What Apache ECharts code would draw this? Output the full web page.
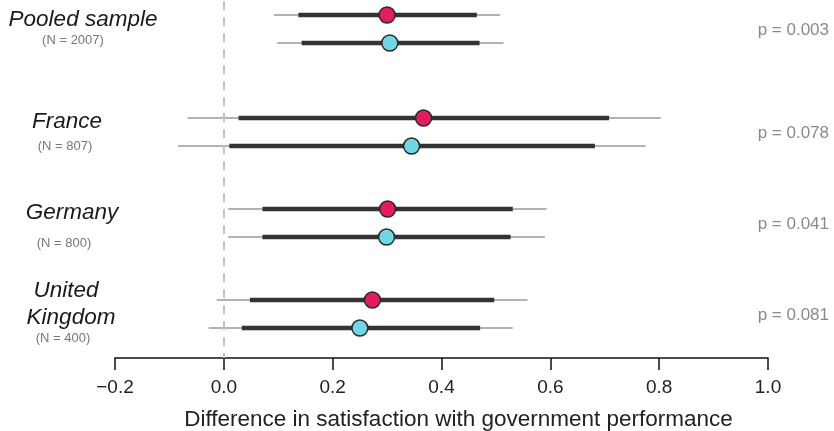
<!DOCTYPE html>
<html>
<head>
<meta charset="utf-8">
<script src="https://cdn.jsdelivr.net/npm/echarts@6/dist/echarts.min.js"></script>
<style>
  html, body { margin: 0; padding: 0; background: #fff; }
  #chart { width: 834px; height: 431px; }
</style>
</head>
<body>
<div id="chart"></div>
<script>
// rows: pooled sample, France, Germany, United Kingdom
const redRow = [0, 3.68, 6.93, 10.18];
const cyanRow = [1, 4.68, 7.93, 11.18];

const redEst = [0.300, 0.367, 0.301, 0.273];
const redThinLo = [0.092, -0.067, 0.008, -0.013];
const redThinHi = [0.508, 0.803, 0.593, 0.558];
const redThickLo = [0.137, 0.027, 0.071, 0.048];
const redThickHi = [0.465, 0.708, 0.531, 0.497];

const cyanEst = [0.305, 0.345, 0.299, 0.250];
const cyanThinLo = [0.098, -0.084, 0.008, -0.028];
const cyanThinHi = [0.514, 0.775, 0.590, 0.531];
const cyanThickLo = [0.143, 0.010, 0.071, 0.033];
const cyanThickHi = [0.470, 0.682, 0.527, 0.471];

const pValues = ["p = 0.003", "p = 0.078", "p = 0.041", "p = 0.081"];

const FONT = "Liberation Sans, Arial, sans-serif";

const myChart = echarts.init(document.getElementById("chart"));

// [lo, hi, row] for both groups
function bars(rLo, rHi, cLo, cHi) {
  const out = [];
  for (let i = 0; i < rLo.length; i++) {
    out.push([rLo[i], rHi[i], redRow[i]]);
    out.push([cLo[i], cHi[i], cyanRow[i]]);
  }
  return out;
}

function lineRender(width, color) {
  return function (params, api) {
    const a = api.coord([api.value(0), api.value(2)]);
    const b = api.coord([api.value(1), api.value(2)]);
    return {
      type: "line",
      shape: { x1: a[0], y1: a[1], x2: b[0], y2: b[1] },
      style: { stroke: color, lineWidth: width },
    };
  };
}

const pData = pValues.map((p, i) => [1.0, (redRow[i] + cyanRow[i]) / 2, i]);

// 左侧标签
const leftLabels = [
  { text: "Pooled sample", x: 83, y: 20, big: true },
  { text: "(N = 2007)", x: 73, y: 40 },
  { text: "France", x: 67, y: 122, big: true },
  { text: "(N = 807)", x: 65, y: 146 },
  { text: "Germany", x: 72, y: 213, big: true },
  { text: "(N = 800)", x: 64, y: 243 },
  { text: "United", x: 66, y: 291, big: true },
  { text: "Kingdom", x: 71, y: 318, big: true },
  { text: "(N = 400)", x: 63, y: 338 },
];

const option = {
  animation: false,
  grid: { left: 115, right: 66, top: 1, bottom: 73, containLabel: false, outerBoundsMode: "none" },
  xAxis: {
    type: "value",
    position: "bottom",
    min: -0.2,
    max: 1.0,
    interval: 0.2,
    axisLine: { show: true, onZero: false, lineStyle: { color: "#111", width: 1.5 } },
    axisTick: { show: true, length: 12, lineStyle: { color: "#111", width: 1.5 } },
    splitLine: { show: false },
    axisLabel: {
      margin: 20,
      fontFamily: FONT,
      fontSize: 19,
      color: "#222",
      formatter: (v) => (v < 0 ? "\u2212" : "") + Math.abs(v).toFixed(1),
    },
    name: "Difference in satisfaction with government performance",
    nameLocation: "middle",
    nameGap: 50,
    nameTextStyle: { fontFamily: FONT, fontSize: 22.5, color: "#222", padding: [0, 0, 0, 34] },
  },
  yAxis: {
    type: "value",
    inverse: true,
    min: -0.5,
    max: 12.25,
    show: false,
  },
  graphic: leftLabels.map((l) => ({
    type: "text",
    x: l.x,
    y: l.y,
    style: {
      text: l.text,
      align: "center",
      verticalAlign: "middle",
      fontFamily: FONT,
      fontSize: l.big ? 22.5 : 13,
      fontStyle: l.big ? "italic" : "normal",
      fill: l.big ? "#1a1a1a" : "#777",
    },
  })),
  series: [
    {
      type: "custom",
      name: "thin",
      renderItem: lineRender(1.5, "#9a9a9a"),
      encode: { x: [0, 1], y: 2 },
      data: bars(redThinLo, redThinHi, cyanThinLo, cyanThinHi),
      z: 2,
      markLine: {
        silent: true,
        symbol: "none",
        label: { show: false },
        lineStyle: { color: "#c4c4c4", width: 2, type: [9, 7] },
        data: [{ xAxis: 0 }],
      },
    },
    {
      type: "custom",
      name: "thick",
      renderItem: lineRender(4.5, "#333"),
      encode: { x: [0, 1], y: 2 },
      data: bars(redThickLo, redThickHi, cyanThickLo, cyanThickHi),
      z: 3,
    },
    {
      type: "scatter",
      name: "red",
      symbolSize: 16,
      itemStyle: { color: "#e21d5f", borderColor: "#2a2a2a", borderWidth: 1.5, opacity: 1 },
      data: redEst.map((v, i) => [v, redRow[i]]),
      z: 5,
    },
    {
      type: "scatter",
      name: "cyan",
      symbolSize: 16,
      itemStyle: { color: "#6fd8e4", borderColor: "#2a2a2a", borderWidth: 1.5, opacity: 1 },
      data: cyanEst.map((v, i) => [v, cyanRow[i]]),
      z: 5,
    },
    {
      type: "custom",
      name: "p",
      encode: { x: 0, y: 1 },
      data: pData,
      renderItem: function (params, api) {
        const c = api.coord([api.value(0), api.value(1)]);
        return {
          type: "text",
          x: c[0] + 61,
          y: c[1] + 1,
          style: {
            text: pValues[api.value(2)],
            align: "right",
            verticalAlign: "middle",
            fontFamily: FONT,
            fontSize: 17,
            fill: "#8a8a8a",
          },
        };
      },
      z: 4,
    },
  ],
};
myChart.setOption(option);
</script>
</body>
</html>
